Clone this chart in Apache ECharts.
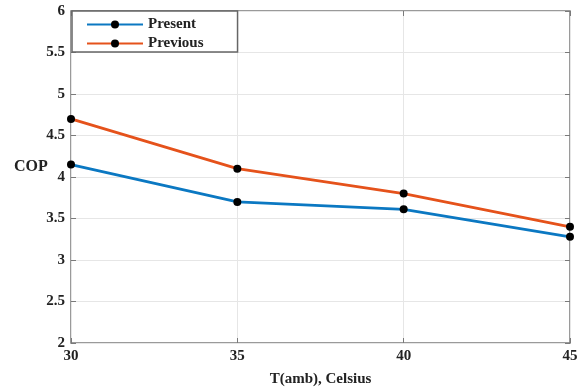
<!DOCTYPE html>
<html>
<head>
<meta charset="utf-8">
<script src="https://cdn.jsdelivr.net/npm/echarts@6/dist/echarts.min.js"></script>
<style>
  html, body { margin: 0; padding: 0; background: #fff; }
  #chart { width: 582px; height: 387px; }
</style>
</head>
<body>
<div id="chart"></div>
<script>
// data
const tAmb = [30, 35, 40, 45]
const present = [4.15, 3.7, 3.61, 3.28]
const previous = [4.7, 4.1, 3.8, 3.4]

const font = 'Liberation Serif'
const axisColor = '#7a7a7a'

const chart = echarts.init(document.getElementById('chart'))

function pairs(xs, ys) {
  return xs.map((x, i) => [x, ys[i]])
}

const option = {
  animation: false,
  grid: {
    left: 71, right: 12, top: 11, bottom: 44,
    outerBoundsMode: 'none',
    show: true, borderColor: axisColor, borderWidth: 1.5
  },
  legend: {
    orient: 'vertical',
    left: 72,
    top: 11,
    itemWidth: 56,
    itemHeight: 10,
    itemGap: 4,
    padding: [6, 34, 1, 14],
    borderColor: '#666',
    borderWidth: 1.5,
    backgroundColor: '#fff',
    textStyle: { fontFamily: font, fontWeight: 'bold', fontSize: 15, color: '#222' },
    data: ['Present', 'Previous']
  },
  graphic: [
    { type: 'text', left: 14, top: 159, style: { text: 'COP', font: 'bold 16px "Liberation Serif"', fill: '#222' } }
  ],
  xAxis: [
    {
      type: 'value', min: 30, max: 45, interval: 5,
      name: 'T(amb), Celsius', nameLocation: 'middle', nameGap: 29,
      nameTextStyle: { fontFamily: font, fontWeight: 'bold', fontSize: 15, color: '#222' },
      axisLine: { show: false },
      axisTick: { show: true, inside: true, length: 5, lineStyle: { color: axisColor } },
      axisLabel: { fontFamily: font, fontWeight: 'bold', fontSize: 15, color: '#222', margin: 6 },
      splitLine: { show: true, lineStyle: { color: '#e6e6e6', width: 1 } }
    },
    {
      type: 'value', min: 30, max: 45, interval: 5, position: 'top',
      axisLine: { show: false }, axisLabel: { show: false },
      axisTick: { show: true, inside: true, length: 5, lineStyle: { color: axisColor } },
      splitLine: { show: false }
    }
  ],
  yAxis: [
    {
      type: 'value', min: 2, max: 6, interval: 0.5,
      axisLine: { show: false },
      axisTick: { show: true, inside: true, length: 5, lineStyle: { color: axisColor } },
      axisLabel: { fontFamily: font, fontWeight: 'bold', fontSize: 15, color: '#222', margin: 6 },
      splitLine: { show: true, lineStyle: { color: '#e6e6e6', width: 1 } }
    },
    {
      type: 'value', min: 2, max: 6, interval: 0.5, position: 'right',
      axisLine: { show: false }, axisLabel: { show: false },
      axisTick: { show: true, inside: true, length: 5, lineStyle: { color: axisColor } },
      splitLine: { show: false }
    }
  ],
  series: [
    {
      name: 'Present', type: 'line', data: pairs(tAmb, present),
      symbol: 'circle', symbolSize: 8,
      lineStyle: { color: '#0b78c2', width: 2.8 },
      itemStyle: { color: '#000', borderWidth: 0 }
    },
    {
      name: 'Previous', type: 'line', data: pairs(tAmb, previous),
      symbol: 'circle', symbolSize: 8,
      lineStyle: { color: '#e5521b', width: 2.8 },
      itemStyle: { color: '#000', borderWidth: 0 }
    }
  ]
}

chart.setOption(option)
</script>
</body>
</html>
